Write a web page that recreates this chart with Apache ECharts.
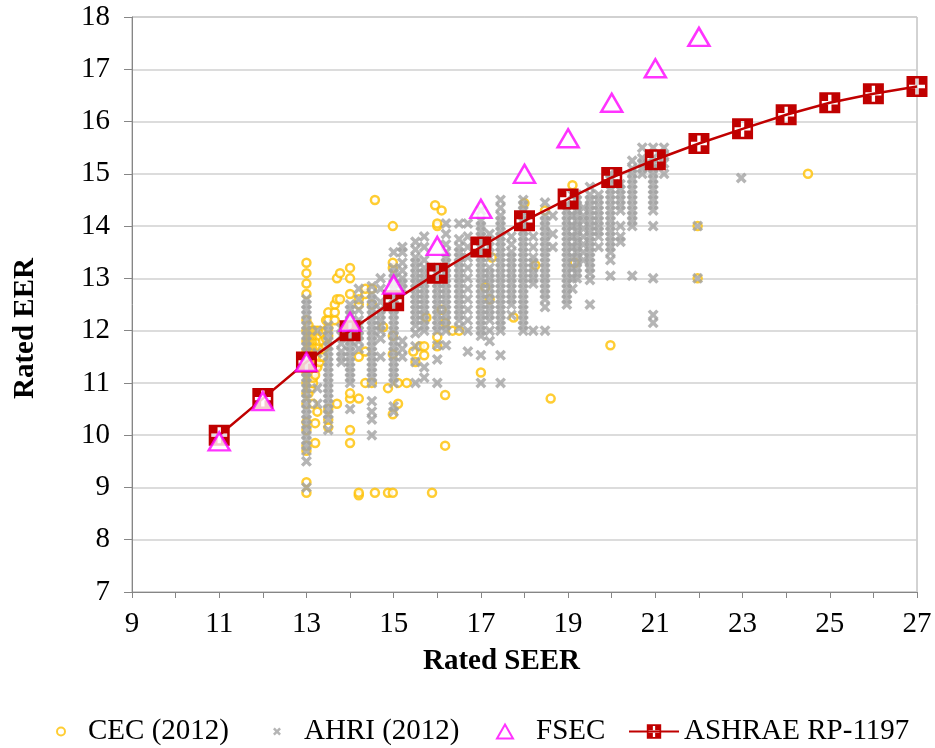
<!DOCTYPE html>
<html>
<head>
<meta charset="utf-8">
<script src="https://cdn.jsdelivr.net/npm/echarts@6/dist/echarts.min.js"></script>
<style>
  html, body { margin: 0; padding: 0; background: #fff; }
  #chart { width: 935px; height: 748px; }
</style>
</head>
<body>
<div id="chart"></div>
<script>
// CEC (2012) listings: [SEER, [EER, ...]]
const cecColumns = [
  [13.0, [8.9, 9.1, 9.7, 9.8, 10.1, 10.25, 10.6, 10.8, 11.0, 11.2, 11.4, 11.6, 11.8, 12.0, 12.2, 12.7, 12.9, 13.1, 13.3]],
  [13.05, [10.8, 10.9, 11.0, 11.1, 11.2, 11.3, 11.4, 11.5, 11.6, 11.7, 11.8, 11.9, 12.0, 12.1]],
  [13.1, [10.9, 11.0, 11.1, 11.2, 11.3, 11.4, 11.5, 11.6, 11.7, 11.8, 11.9, 12.0]],
  [13.15, [10.6, 11.0, 11.1, 11.2, 11.3, 11.4, 11.5, 11.6, 11.7, 11.8, 11.9, 12.0]],
  [13.2, [9.85, 10.23, 11.15, 11.3, 11.4, 11.5, 11.6, 11.7, 11.8, 11.9, 12.0]],
  [13.25, [10.45, 11.3, 11.45, 11.6, 11.7, 11.8, 11.9, 12.0]],
  [13.3, [11.4, 11.5, 11.6, 11.7, 11.8, 11.9, 12.0]],
  [13.38, [11.5, 11.65, 11.8, 11.95]],
  [13.45, [11.7, 11.85, 12.0, 12.2]],
  [13.5, [10.15, 10.3, 10.5, 11.9, 12.05, 12.2, 12.35]],
  [13.65, [12.2, 12.35, 12.5]],
  [13.7, [10.6, 12.6, 13.0]],
  [13.77, [12.6, 13.1]],
  [14.0, [9.85, 10.1, 10.7, 10.8, 12.7, 13.0, 13.2]],
  [14.2, [8.85, 8.9, 10.7, 11.5, 12.5, 12.6]],
  [14.35, [11.0, 11.6, 12.7, 12.8]],
  [14.5, [11.0, 12.5, 12.8]],
  [14.57, [8.9, 14.5]],
  [14.76, [12.07]],
  [14.87, [8.9, 10.9]],
  [14.98, [8.9, 10.4, 11.55, 11.9, 13.2, 13.3, 14.0]],
  [15.1, [10.6, 11.0]],
  [15.3, [11.0]],
  [15.45, [11.6]],
  [15.5, [11.4]],
  [15.6, [11.7]],
  [15.7, [11.53, 11.7]],
  [15.75, [12.25]],
  [15.88, [8.9]],
  [15.95, [14.4]],
  [16.0, [11.7, 11.88, 14.0, 14.05]],
  [16.1, [12.4, 14.3]],
  [16.18, [9.8, 10.77, 12.15]],
  [16.35, [12.0]],
  [16.5, [12.0]],
  [17.0, [11.2]],
  [17.1, [12.83]],
  [17.2, [12.6]],
  [17.25, [13.4]],
  [17.75, [12.25]],
  [18.0, [14.44]],
  [18.25, [13.25]],
  [18.47, [14.3]],
  [18.6, [10.7]],
  [19.1, [14.78]],
  [19.15, [13.3]],
  [19.97, [11.72]],
  [21.97, [13.0, 14.0]],
  [24.5, [15.0]]
];

// AHRI (2012) listings: [SEER, [EER, ...]]
const ahriColumns = [
  [13.0, [9.0, 9.5, 9.7, 9.8, 9.9, 10.0, 10.1, 10.2, 10.3, 10.4, 10.5, 10.6, 10.7, 10.8, 10.9, 11.0, 11.1, 11.2, 11.3, 11.4, 11.5, 11.6, 11.7, 11.8, 11.9, 12.0, 12.1, 12.2, 12.3, 12.4, 12.5, 12.6]],
  [13.25, [10.6, 10.9, 11.57, 12.0]],
  [13.5, [10.1, 10.3, 10.4, 10.5, 10.6, 10.7, 10.8, 10.9, 11.0, 11.1, 11.2, 11.3, 11.4, 11.5, 11.6, 11.7, 11.8, 11.9, 12.0, 12.1]],
  [13.8, [11.4, 11.5, 11.6, 11.75, 11.9, 12.05]],
  [14.0, [10.5, 11.0, 11.1, 11.2, 11.3, 11.4, 11.5, 11.6, 11.7, 11.8, 11.9, 12.0, 12.1, 12.2, 12.3, 12.4, 12.5]],
  [14.2, [11.65, 11.8, 11.9, 12.0, 12.1, 12.2, 12.4, 12.6, 12.8]],
  [14.5, [10.0, 10.3, 10.45, 10.65, 11.0, 11.1, 11.2, 11.3, 11.4, 11.5, 11.6, 11.7, 11.8, 11.9, 12.0, 12.1, 12.2, 12.3, 12.4, 12.5, 12.6, 12.7, 12.85]],
  [14.7, [11.5, 11.85, 12.0, 12.1, 12.2, 12.3, 12.4, 12.55, 12.8, 13.0]],
  [15.0, [10.45, 10.55, 11.0, 11.1, 11.2, 11.3, 11.4, 11.5, 11.6, 11.7, 11.8, 11.9, 12.0, 12.1, 12.2, 12.3, 12.4, 12.5, 12.6, 12.7, 12.8, 12.9, 13.0, 13.1, 13.2, 13.5]],
  [15.2, [11.5, 11.65, 11.8, 12.8, 12.9, 13.0, 13.15, 13.3, 13.5, 13.6]],
  [15.5, [11.0, 11.4, 11.7, 11.95, 12.1, 12.2, 12.3, 12.4, 12.5, 12.6, 12.7, 12.8, 12.9, 13.0, 13.1, 13.2, 13.3, 13.4, 13.55, 13.7]],
  [15.7, [11.1, 11.3, 12.0, 12.1, 12.2, 12.3, 12.4, 12.5, 12.6, 12.7, 12.8, 12.9, 13.0, 13.1, 13.2, 13.35, 13.6, 13.8]],
  [16.0, [11.0, 11.45, 11.72, 12.0, 12.1, 12.2, 12.3, 12.4, 12.5, 12.6, 12.7, 12.8, 12.9, 13.0, 13.1, 13.2]],
  [16.2, [11.72, 12.0, 12.1, 12.2, 12.3, 12.4, 12.5, 12.6, 12.7, 12.8, 12.9, 13.0, 13.1, 13.2, 13.3, 13.4, 13.5, 13.65, 13.85, 14.05]],
  [16.5, [12.05, 12.2, 12.3, 12.4, 12.5, 12.6, 12.7, 12.8, 12.9, 13.0, 13.1, 13.2, 13.3, 13.4, 13.5, 13.6, 13.75, 14.05]],
  [16.7, [11.6, 12.0, 12.2, 12.4, 12.6, 12.8, 13.0, 13.2, 13.4, 13.6, 13.8, 14.05]],
  [17.0, [11.0, 11.53, 11.9, 12.0, 12.1, 12.2, 12.3, 12.4, 12.5, 12.6, 12.7, 12.8, 12.9, 13.0, 13.1, 13.2, 13.3, 13.4, 13.5, 13.6, 13.7, 13.8, 13.9, 14.0, 14.1, 14.3]],
  [17.2, [11.8, 12.0, 12.2, 12.3, 12.4, 12.5, 12.6, 12.7, 12.8, 12.9, 13.0, 13.1, 13.2, 13.4, 13.6, 13.85]],
  [17.45, [11.0, 11.53, 12.0, 12.1, 12.2, 12.3, 12.4, 12.5, 12.6, 12.7, 12.8, 12.9, 13.0, 13.1, 13.2, 13.3, 13.4, 13.5, 13.6, 13.7, 13.8, 13.9, 14.0, 14.1, 14.2, 14.35, 14.5]],
  [17.7, [12.3, 12.5, 12.6, 12.7, 12.8, 12.9, 13.0, 13.1, 13.2, 13.3, 13.4, 13.5, 13.65, 13.8]],
  [17.97, [12.0, 12.1, 12.2, 12.3, 12.4, 12.5, 12.6, 12.7, 12.8, 12.9, 13.0, 13.1, 13.2, 13.3, 13.4, 13.5, 13.6, 13.7, 13.8, 13.9, 14.0, 14.1, 14.2, 14.3, 14.4, 14.5]],
  [18.2, [12.0, 12.9, 13.0, 13.1, 13.2, 13.3, 13.4, 13.6, 13.8]],
  [18.47, [12.0, 12.45, 12.6, 12.7, 12.8, 12.9, 13.0, 13.1, 13.2, 13.3, 13.4, 13.5, 13.6, 13.7, 13.8, 13.9, 14.0, 14.1, 14.2, 14.45]],
  [18.65, [13.6, 13.85, 14.2]],
  [18.97, [12.5, 12.6, 12.7, 12.8, 12.9, 13.0, 13.1, 13.2, 13.3, 13.4, 13.5, 13.6, 13.7, 13.8, 13.9, 14.0, 14.1, 14.2, 14.3, 14.4]],
  [19.1, [12.8, 13.0, 13.2, 13.4, 13.6, 13.8, 14.0, 14.2, 14.4, 14.6]],
  [19.2, [13.0, 13.1, 13.2, 13.3, 13.4, 13.5, 13.6, 13.7, 13.8, 13.9, 14.0, 14.1, 14.2, 14.3, 14.4, 14.5, 14.6]],
  [19.35, [13.35, 13.5, 13.65, 13.8, 13.95, 14.1, 14.2, 14.35]],
  [19.5, [12.5, 12.97, 13.1, 13.2, 13.3, 13.4, 13.5, 13.6, 13.7, 13.8, 13.9, 14.0, 14.1, 14.2, 14.3, 14.4, 14.5, 14.6, 14.75]],
  [19.7, [13.6, 13.8, 13.9, 14.0, 14.1, 14.2, 14.3, 14.4, 14.5, 14.6]],
  [19.97, [13.05, 13.35, 13.5, 13.6, 13.7, 13.8, 13.9, 14.0, 14.1, 14.2, 14.3, 14.4, 14.5, 14.6, 14.7, 14.8, 14.9, 15.0]],
  [20.2, [13.7, 13.8, 14.0, 14.3, 14.4, 14.5, 14.6, 14.7, 14.8]],
  [20.47, [13.05, 14.0, 14.1, 14.2, 14.3, 14.4, 14.5, 14.6, 14.7, 14.8, 14.9, 15.0, 15.1, 15.25]],
  [20.7, [15.0, 15.1, 15.2, 15.3, 15.5]],
  [20.95, [12.15, 12.3, 13.0, 14.0, 14.3, 14.4, 14.5, 14.6, 14.7, 14.8, 14.9, 15.0, 15.1, 15.2, 15.3, 15.5]],
  [21.2, [15.0, 15.2, 15.35, 15.5]],
  [21.97, [13.0, 14.0]],
  [22.97, [14.92]]
];

// FSEC
const fsecSeer = [11, 12, 13, 14, 15, 16, 17, 18, 19, 20, 21, 22];
const fsecEer = [9.88, 10.65, 11.4, 12.17, 12.88, 13.62, 14.33, 15.0, 15.68, 16.36, 17.02, 17.62];

// ASHRAE RP-1197
const ashraeSeer = [11, 12, 13, 14, 15, 16, 17, 18, 19, 20, 21, 22, 23, 24, 25, 26, 27];
const ashraeEer = [10.0, 10.7, 11.4, 12.0, 12.57, 13.1, 13.6, 14.1, 14.52, 14.93, 15.27, 15.58, 15.86, 16.13, 16.36, 16.53, 16.67];

const serif = "'Liberation Serif', 'Times New Roman', serif";
// 粗一点的 x 标记
const xMarker = 'path://M0,2.2L2.2,0L5,2.8L7.8,0L10,2.2L7.2,5L10,7.8L7.8,10L5,7.2L2.2,10L0,7.8L2.8,5Z';
// 红色方块，中间留白十字（由 8 个矩形拼成）
const crossSquare = 'path://' + [
    [0, 0, 8.4, 8.4], [11.6, 0, 8.4, 8.4], [0, 11.6, 8.4, 8.4], [11.6, 11.6, 8.4, 8.4],
    [8.4, 0, 3.2, 2.4], [8.4, 17.6, 3.2, 2.4], [0, 8.4, 2.4, 3.2], [17.6, 8.4, 2.4, 3.2]
].map(([x, y, w, h]) => `M${x},${y}L${x + w},${y}L${x + w},${y + h}L${x},${y + h}Z`).join('');

function toPoints(columns) {
    return columns.flatMap(([s, list]) => list.map(e => [s, e]));
}

let chart = echarts.init(document.getElementById('chart'), null, { renderer: 'canvas' });

function legendAt(name, left, w, h, pad) {
    return {
        data: [name],
        left: left,
        top: 712,
        itemWidth: w,
        itemHeight: h,
        selectedMode: false,
        textStyle: { fontFamily: serif, fontSize: 29, color: '#000', padding: [0, 0, 0, pad] }
    };
}

chart.setOption({
    animation: false,
    backgroundColor: '#fff',
    grid: { left: 132, right: 18, top: 17, bottom: 156, show: true, borderColor: '#a6a6a6', borderWidth: 1 },
    legend: [
        legendAt('CEC (2012)', 51, 8, 8, 18),
        legendAt('AHRI (2012)', 268, 8, 8, 18),
        legendAt('FSEC', 491, 16, 14, 18),
        legendAt('ASHRAE RP-1197', 623, 50, 18, 0)
    ],
    xAxis: {
        type: 'value', min: 9, max: 27, interval: 1,
        name: 'Rated SEER', nameLocation: 'middle', nameGap: 55,
        nameTextStyle: { fontFamily: serif, fontSize: 29, fontWeight: 'bold', color: '#000', padding: [0, 46, 0, 0] },
        axisLine: { lineStyle: { color: '#868686', width: 1 } },
        axisTick: { show: true, length: 6, lineStyle: { color: '#868686' } },
        axisLabel: {
            margin: 18, fontFamily: serif, fontSize: 29, color: '#000',
            formatter: v => (v % 2 === 1 ? String(v) : '')
        },
        splitLine: { show: false }
    },
    yAxis: {
        type: 'value', min: 7, max: 18, interval: 1,
        name: 'Rated EER', nameLocation: 'middle', nameGap: 92,
        nameTextStyle: { fontFamily: serif, fontSize: 29, fontWeight: 'bold', color: '#000', padding: [0, 48, 0, 0] },
        axisLine: { show: true, lineStyle: { color: '#868686', width: 1 } },
        axisTick: { show: true, length: 8, lineStyle: { color: '#868686' } },
        axisLabel: { margin: 22, fontFamily: serif, fontSize: 29, color: '#000' },
        splitLine: { lineStyle: { color: '#d0d0d0', width: 1.5 } }
    },
    series: [
        {
            name: 'CEC (2012)', type: 'scatter', z: 2,
            symbol: 'circle', symbolSize: 8,
            itemStyle: { color: '#fff', borderColor: '#ffc000', borderWidth: 2.5 },
            data: toPoints(cecColumns)
        },
        {
            name: 'AHRI (2012)', type: 'scatter', z: 2,
            symbol: xMarker, symbolSize: 11,
            itemStyle: { color: '#a3a3a3' },
            data: toPoints(ahriColumns)
        },
        {
            name: 'ASHRAE RP-1197', type: 'line', z: 3, clip: false,
            symbol: crossSquare, symbolSize: 21, showAllSymbol: true,
            lineStyle: { color: '#c00000', width: 2.5 },
            itemStyle: { color: '#c00000' },
            data: ashraeSeer.map((s, i) => [s, ashraeEer[i]])
        },
        {
            name: 'FSEC', type: 'scatter', z: 4,
            symbol: 'triangle', symbolSize: [21, 18],
            itemStyle: { color: '#fff', borderColor: '#ff00ff', borderWidth: 2.5 },
            data: fsecSeer.map((s, i) => [s, fsecEer[i]])
        }
    ]
});
</script>
</body>
</html>
